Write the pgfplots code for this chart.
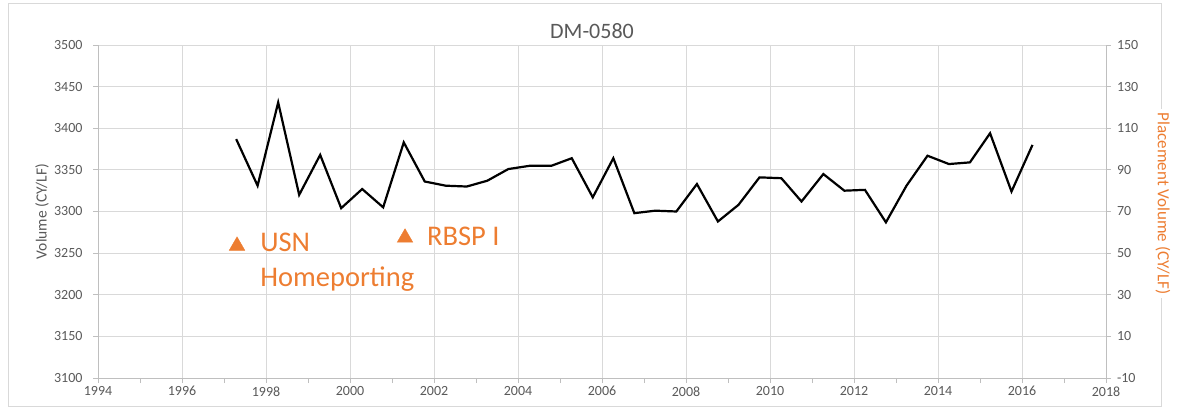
\documentclass[border=0pt]{standalone}
\usepackage{fontspec}
\setmainfont{Carlito}
\usepackage{pgfplots}
\pgfplotsset{compat=1.18}
\definecolor{gridgray}{HTML}{D9D9D9}
\definecolor{axisgray}{HTML}{BFBFBF}
\definecolor{labelgray}{HTML}{595959}
\definecolor{accent}{HTML}{ED7D31}
\newcommand{\fs}[1]{\fontsize{#1bp}{1.2\dimexpr#1bp\relax}\selectfont}

\pgfplotsset{
  chartbase/.style={
    at={(98bp,31bp)}, anchor=south west,
    scale only axis, width=1008bp, height=333bp,
    xmin=1994, xmax=2018,
    axis line style={draw=axisgray, line width=0.8bp, -},
    tick align=outside,
    major tick length=5bp, minor tick length=5bp,
    tick style={draw=axisgray, line width=0.8bp},
    tick label style={font=\fs{14}, text=labelgray},
  },
}

\begin{document}
\begin{tikzpicture}[x=1bp,y=1bp]
\path[use as bounding box] (0,0) rectangle (1184,409);
\draw[gridgray, line width=1bp] (8,3) rectangle (1161,405);

\begin{axis}[
  chartbase,
  axis x line*=bottom, axis y line*=left,
  ymin=3100, ymax=3500,
  xtick={1994,1996,...,2018},
  xticklabels={1994,1996,1998,2000,2002,2004,2006,2008,2010,2012,2014,2016,2018},
  minor xtick={1995,1997,...,2017},
  ytick={3100,3150,...,3500},
  yticklabels={3100,3150,3200,3250,3300,3350,3400,3450,3500},
  yticklabel style={xshift=-7bp},
  grid=major, grid style={gridgray, line width=0.8bp},
  ylabel={Volume (CY/LF)},
  every axis y label/.style={at={(rel axis cs:0,0.5)}, xshift=-56bp, rotate=90,
    anchor=center, font=\fs{15.5}, text=labelgray},
  clip=false,
]
% annual volume
\addplot[black, line width=2.2bp] coordinates {
  (1997.29,3387) (1997.80,3331) (1998.29,3431) (1998.79,3320) (1999.29,3368)
  (1999.79,3304) (2000.29,3327) (2000.79,3305) (2001.28,3383) (2001.78,3336)
  (2002.28,3331) (2002.78,3330) (2003.27,3337) (2003.77,3351) (2004.29,3355)
  (2004.80,3355) (2005.28,3364) (2005.78,3317) (2006.27,3364) (2006.77,3298)
  (2007.27,3301) (2007.77,3300) (2008.26,3333) (2008.76,3288) (2009.25,3308)
  (2009.75,3341) (2010.27,3340) (2010.75,3312) (2011.27,3345) (2011.77,3325)
  (2012.26,3326) (2012.76,3287) (2013.25,3331) (2013.75,3367) (2014.26,3357)
  (2014.76,3359) (2015.24,3394) (2015.75,3324) (2016.25,3380)
};
\node[anchor=base west, inner sep=0, text=accent, font=\fs{28.5}] at (axis cs:1997.86,3251.6) {USN};
\node[anchor=base west, inner sep=0, text=accent, font=\fs{28.5}] at (axis cs:1997.86,3209.6) {Homeporting};
\node[anchor=base west, inner sep=0, text=accent, font=\fs{28.5}] at (axis cs:2001.83,3258.8) {RBSP I};
\end{axis}

\begin{axis}[
  chartbase,
  axis x line=none, axis y line*=right,
  ymin=-10, ymax=150,
  ytick={-10,10,...,150},
  yticklabels={-10,10,30,50,70,90,110,130,150},
  yticklabel style={xshift=2.5bp},
  ylabel={Placement Volume (CY/LF)},
  every axis y label/.style={at={(rel axis cs:1,0.5)}, xshift=57bp, yshift=8bp,
    rotate=-90, anchor=center, font=\fs{17}, text=accent, fill=white,
    inner xsep=4bp, inner ysep=1bp},
  clip=false,
]
% placement events
\addplot[only marks, mark=triangle*, mark size=9bp, color=accent] coordinates {
  (1997.31,53.5) (2001.31,57.4)
};
\end{axis}

\node[anchor=base, font=\fs{22}, text=labelgray] at (592,371) {DM-0580};
\end{tikzpicture}
\end{document}
